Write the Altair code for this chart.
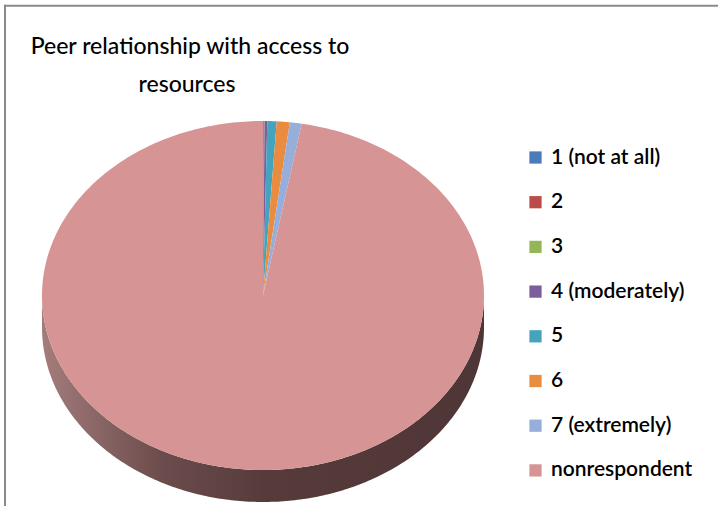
import altair as alt
import pandas as pd

categories = ["1 (not at all)", "2", "3", "4 (moderately)", "5", "6",
              "7 (extremely)", "nonrespondent"]
values = [0.05, 0.03, 0.03, 0.2, 0.68, 0.95, 0.86, 97.2]
colors = ["#4a7bba", "#bc4c49", "#95b655", "#7b5e9c", "#44a4bd", "#ea8c3f",
          "#97aedb", "#d69494"]
title_lines = ["Peer relationship with access to", "resources"]

df = pd.DataFrame({"category": categories, "value": values,
                   "order": list(range(len(categories)))})

RX, RY, DEPTH = 221, 174.5, 32
xs = alt.Scale(domain=[-263, 455], nice=False, zero=False)
ys = alt.Scale(domain=[-210.5, 295.5], nice=False, zero=False)

base = alt.Chart(df).transform_window(
    cum="sum(value)", sort=[alt.SortField("order")]
).transform_joinaggregate(
    total="sum(value)"
).transform_calculate(
    t0="(datum.cum - datum.value) / datum.total",
    t1="datum.cum / datum.total",
)

# front wall (3-D depth) of the pie
side = base.transform_calculate(
    a0="max(datum.t0, 0.25)", a1="min(datum.t1, 0.75)"
).transform_filter(
    "datum.a1 > datum.a0"
).transform_calculate(
    steps="sequence(0, 241)"
).transform_flatten(["steps"]).transform_calculate(
    ang="2 * PI * (datum.a0 + (datum.a1 - datum.a0) * datum.steps / 240)"
).transform_calculate(
    px=f"{RX} * sin(datum.ang)",
    py=f"{RY} * cos(datum.ang)",
    py2=f"{RY} * cos(datum.ang) - {DEPTH}",
).mark_area(
    fill=alt.Gradient(
        gradient="linear", x1=0, x2=1, y1=0, y2=0,
        stops=[alt.GradientStop(color="#a47c7c", offset=0),
               alt.GradientStop(color="#6c4c4c", offset=0.27),
               alt.GradientStop(color="#573b3b", offset=0.5),
               alt.GradientStop(color="#4f3636", offset=1)])
).encode(
    x=alt.X("px:Q", scale=xs, axis=None),
    y=alt.Y("py:Q", scale=ys, axis=None),
    y2="py2:Q",
)

# top face slices
top = base.transform_calculate(
    steps="sequence(-1, 361)"
).transform_flatten(["steps"]).transform_calculate(
    ang="2 * PI * (datum.t0 + (datum.t1 - datum.t0) * clamp(datum.steps, 0, 360) / 360)"
).transform_calculate(
    px=f"datum.steps < 0 ? 0 : {RX} * sin(datum.ang)",
    py=f"datum.steps < 0 ? 0 : {RY} * cos(datum.ang)",
).mark_line(filled=True, interpolate="linear").encode(
    x=alt.X("px:Q", scale=xs, axis=None),
    y=alt.Y("py:Q", scale=ys, axis=None),
    order="steps:Q",
    color=alt.Color(
        "category:N",
        scale=alt.Scale(domain=categories, range=colors),
        title=None,
        legend=alt.Legend(
            orient="none", legendX=525, legendY=147, direction="vertical",
            symbolType="square", symbolSize=150, symbolStrokeWidth=0,
            labelFont="Lato", labelFontSize=21, labelColor="#000000",
            labelFontWeight=600, labelOffset=5, rowPadding=22.7, padding=0,
            labelLimit=300,
        ),
    ),
)

t1 = alt.Chart(pd.DataFrame({"t": [title_lines[0]]})).mark_text(
    font="Lato", fontSize=23, color="#000000", align="center",
    baseline="alphabetic", fontWeight=500
).encode(x=alt.value(190), y=alt.value(54), text="t:N")
t2 = alt.Chart(pd.DataFrame({"t": [title_lines[1]]})).mark_text(
    font="Lato", fontSize=23, color="#000000", align="center",
    baseline="alphabetic", fontWeight=500
).encode(x=alt.value(187), y=alt.value(92), text="t:N")

frame_df = pd.DataFrame({"k": [0]})
frame_top = alt.Chart(frame_df).mark_rule(color="#8a8a8a", strokeWidth=2).encode(
    x=alt.value(4), x2=alt.value(718), y=alt.value(5.7))
frame_left = alt.Chart(frame_df).mark_rule(color="#8a8a8a", strokeWidth=2).encode(
    x=alt.value(5), y=alt.value(4.7), y2=alt.value(506))

chart = alt.layer(side, top, t1, t2, frame_top, frame_left).properties(
    width=718, height=506, autosize="none", padding=0
).configure_view(strokeWidth=0)

chart.save("out.html", embed_options={"renderer": "svg", "actions": False})
